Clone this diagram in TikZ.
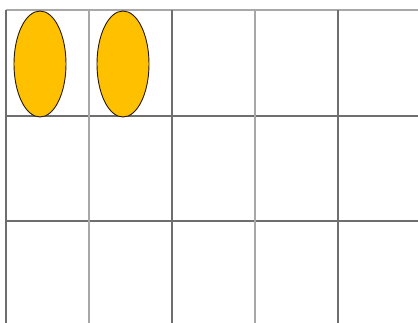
\documentclass[tikz,border=0pt]{standalone}
\usepackage{tikz}
\usetikzlibrary{shapes.geometric}
\definecolor{gold}{HTML}{FFC000}
\definecolor{darkline}{HTML}{6E6E6E}
\definecolor{lightline}{HTML}{A8A8A8}
\tikzset{
  gridd/.style={draw=darkline,line width=1.3pt},
  gridl/.style={draw=lightline,line width=1.8pt},
  oval/.style={ellipse,draw=black!80!brown,line width=0.9pt,fill=gold,minimum width=52pt,minimum height=106pt,inner sep=0pt}
}
\begin{document}
\begin{tikzpicture}[x=1pt,y=-1pt]
\useasboundingbox[fill=white] (0,0) rectangle (418,323);
% horizontal lines
\draw[gridl] (6,10) -- (418,10);
\draw[gridd] (6,116) -- (418,116);
\draw[gridd] (6,221) -- (418,221);
% vertical lines
\draw[gridd] (6,10) -- (6,323);
\draw[gridl] (89,10) -- (89,323);
\draw[gridd] (172,10) -- (172,323);
\draw[gridl] (255,10) -- (255,323);
\draw[gridd] (338,10) -- (338,323);
% ovals
\node[oval] (o1) at (40,64) {};
\node[oval] (o2) at (123,64) {};
\end{tikzpicture}
\end{document}
